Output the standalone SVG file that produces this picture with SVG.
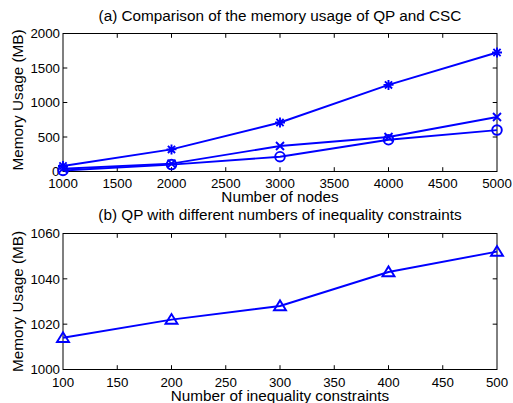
<svg xmlns="http://www.w3.org/2000/svg" xmlns:xlink="http://www.w3.org/1999/xlink" width="513" height="403" viewBox="0 0 513 403">
<style>
text{font-family:"Liberation Sans",Arial,sans-serif;fill:#000}
.tk{font-size:13.3px}
.lb{font-size:15.3px;text-anchor:middle}
.yl{text-anchor:end}
.xl{text-anchor:middle}
.ax{fill:none;stroke:#000;stroke-width:1}
.tick{stroke:#000;stroke-width:1}
.ln{fill:none;stroke:#0000ff;stroke-width:1.9;stroke-linejoin:round}
.mk{fill:none;stroke:#0000ff;stroke-width:1.9}
</style>
<defs>
<g id="star"><path class="mk" d="M-5,0H5M0,-5V5M-3.6,-3.6L3.6,3.6M-3.6,3.6L3.6,-3.6"/></g>
<g id="cross"><path class="mk" d="M-4,-4L4,4M-4,4L4,-4"/></g>
<g id="circ"><circle class="mk" r="4.8"/></g>
<g id="tri"><path class="mk" d="M-6,4.2L0,-5.6L6,4.2Z"/></g>
</defs>
<rect width="513" height="403" fill="#fff"/>

<g id="plot-a">
<text class="lb" x="280" y="21">(a) Comparison of the memory usage of QP and CSC</text>
<rect class="ax" x="63" y="33.5" width="434" height="138"/>
<path class="tick" d="M117.25,171.5v-4.3M171.5,171.5v-4.3M225.75,171.5v-4.3M280,171.5v-4.3M334.25,171.5v-4.3M388.5,171.5v-4.3M442.75,171.5v-4.3M117.25,33.5v4.3M171.5,33.5v4.3M225.75,33.5v4.3M280,33.5v4.3M334.25,33.5v4.3M388.5,33.5v4.3M442.75,33.5v4.3M63,137h4.3M63,102.5h4.3M63,68h4.3M497,137h-4.3M497,102.5h-4.3M497,68h-4.3"/>
<g class="tk yl">
<text x="60" y="38.3">2000</text>
<text x="60" y="72.8">1500</text>
<text x="60" y="107.3">1000</text>
<text x="60" y="141.8">500</text>
<text x="59.5" y="175.8">0</text>
</g>
<g class="tk xl">
<text x="63" y="188">1000</text>
<text x="117.25" y="188">1500</text>
<text x="171.5" y="188">2000</text>
<text x="225.75" y="188">2500</text>
<text x="280" y="188">3000</text>
<text x="334.25" y="188">3500</text>
<text x="388.5" y="188">4000</text>
<text x="442.75" y="188">4500</text>
<text x="497" y="188">5000</text>
</g>
<text class="lb" x="280" y="201.5">Number of nodes</text>
<text class="lb" transform="translate(23,100) rotate(-90)">Memory Usage (MB)</text>
<g id="connectors-a">
<polyline class="ln" points="63,166 171.5,149.4 280,122.5 388.5,84.9 497,52.5"/>
<polyline class="ln" points="63,168.7 171.5,163.6 280,146 388.5,137 497,117"/>
<polyline class="ln" points="63,170.5 171.5,164.6 280,156.7 388.5,139.8 497,130.1"/>
</g>
<g id="markers-a">
<use xlink:href="#star" x="63" y="166"/><use xlink:href="#star" x="171.5" y="149.4"/><use xlink:href="#star" x="280" y="122.5"/><use xlink:href="#star" x="388.5" y="84.9"/><use xlink:href="#star" x="497" y="52.5"/>
<use xlink:href="#cross" x="63" y="168.7"/><use xlink:href="#cross" x="171.5" y="163.6"/><use xlink:href="#cross" x="280" y="146"/><use xlink:href="#cross" x="388.5" y="137"/><use xlink:href="#cross" x="497" y="117"/>
<use xlink:href="#circ" x="63" y="170.5"/><use xlink:href="#circ" x="171.5" y="164.6"/><use xlink:href="#circ" x="280" y="156.7"/><use xlink:href="#circ" x="388.5" y="139.8"/><use xlink:href="#circ" x="497" y="130.1"/>
</g>
</g>

<g id="plot-b">
<text class="lb" x="280" y="219.5">(b) QP with different numbers of inequality constraints</text>
<rect class="ax" x="63" y="233.5" width="434" height="136"/>
<path class="tick" d="M117.25,369.5v-4.3M171.5,369.5v-4.3M225.75,369.5v-4.3M280,369.5v-4.3M334.25,369.5v-4.3M388.5,369.5v-4.3M442.75,369.5v-4.3M117.25,233.5v4.3M171.5,233.5v4.3M225.75,233.5v4.3M280,233.5v4.3M334.25,233.5v4.3M388.5,233.5v4.3M442.75,233.5v4.3M63,324.17h4.3M63,278.83h4.3M497,324.17h-4.3M497,278.83h-4.3"/>
<g class="tk yl">
<text x="60" y="238.3">1060</text>
<text x="60" y="283.6">1040</text>
<text x="60" y="329">1020</text>
<text x="60" y="374">1000</text>
</g>
<g class="tk xl">
<text x="63" y="387">100</text>
<text x="117.25" y="387">150</text>
<text x="171.5" y="387">200</text>
<text x="225.75" y="387">250</text>
<text x="280" y="387">300</text>
<text x="334.25" y="387">350</text>
<text x="388.5" y="387">400</text>
<text x="442.75" y="387">450</text>
<text x="497" y="387">500</text>
</g>
<text class="lb" x="280" y="401">Number of inequality constraints</text>
<text class="lb" transform="translate(23,301.5) rotate(-90)">Memory Usage (MB)</text>
<g id="connectors-b">
<polyline class="ln" points="63,337.8 171.5,319.6 280,306 388.5,272 497,251.6"/>
</g>
<g id="markers-b">
<use xlink:href="#tri" x="63" y="337.8"/><use xlink:href="#tri" x="171.5" y="319.6"/><use xlink:href="#tri" x="280" y="306"/><use xlink:href="#tri" x="388.5" y="272"/><use xlink:href="#tri" x="497" y="251.6"/>
</g>
</g>
</svg>
